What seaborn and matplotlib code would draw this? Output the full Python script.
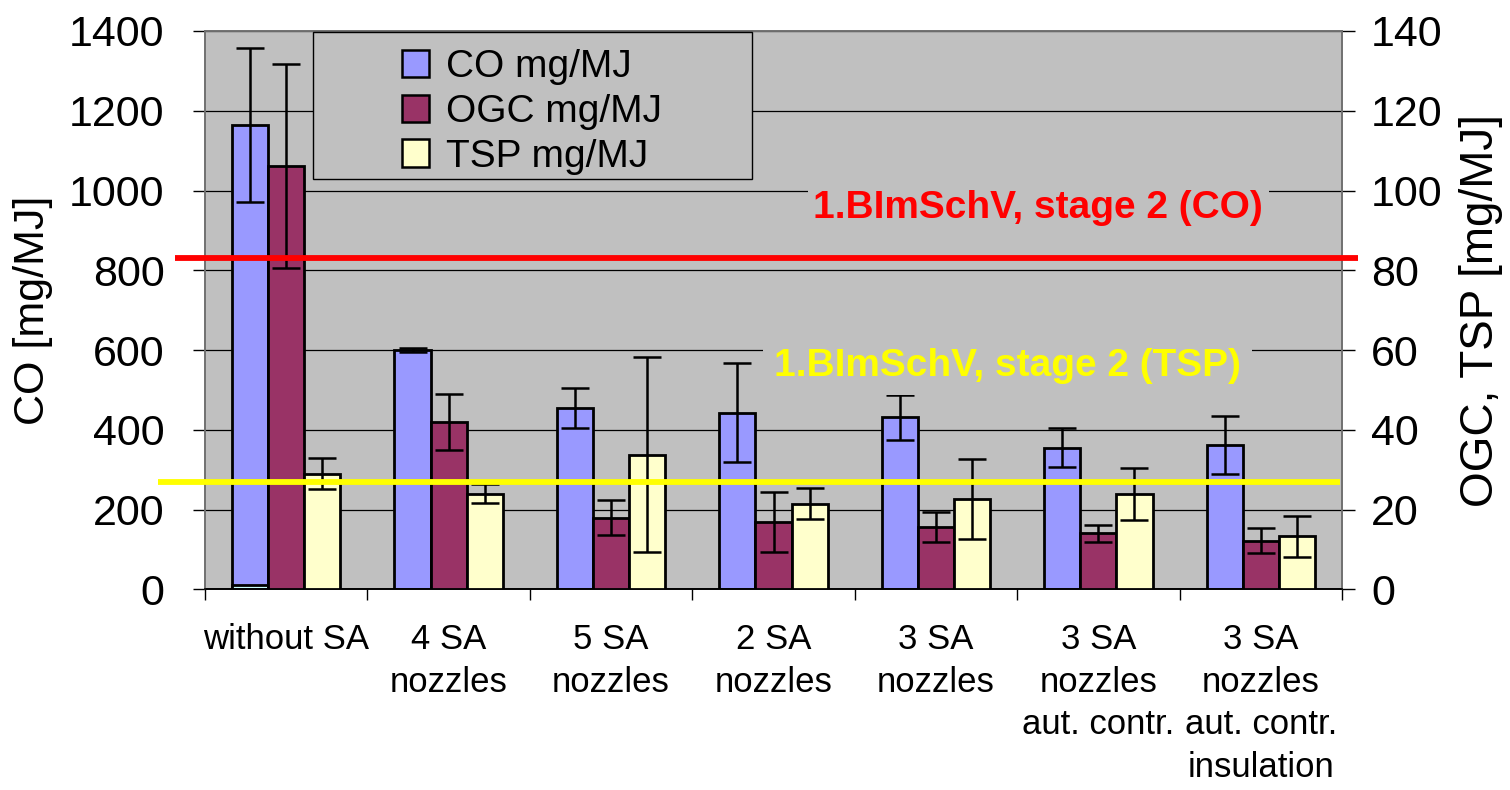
import numpy as np
import pandas as pd
import matplotlib
matplotlib.use("Agg")
import matplotlib.pyplot as plt
import seaborn as sns
from matplotlib.patches import Patch, Rectangle
from matplotlib.ticker import MultipleLocator, FixedLocator

# ---------------- data ----------------
categories = ["without SA", "4 SA\nnozzles", "5 SA\nnozzles", "2 SA\nnozzles",
              "3 SA\nnozzles", "3 SA\nnozzles\naut. contr.",
              "3 SA\nnozzles\naut. contr.\ninsulation"]
series = ["CO mg/MJ", "OGC mg/MJ", "TSP mg/MJ"]
co_values = [1165, 600, 454, 443, 431, 355, 361]
co_err = [193, 5, 50, 125, 56, 49, 73]
ogc_values = [106.1, 41.9, 18.0, 16.8, 15.6, 14.0, 12.2]
ogc_err = [25.5, 7.0, 4.4, 7.5, 3.8, 2.1, 3.2]
tsp_values = [29.0, 24.0, 33.8, 21.5, 22.6, 23.8, 13.3]
tsp_err = [3.8, 2.3, 24.5, 3.9, 10.0, 6.5, 5.1]
co_base_values = [10]          # small light segment at bottom of first CO bar
co_base_categories = ["without SA"]
co_limit = 830                 # left axis
tsp_limit = 27                 # right axis
co_limit_label = "1.BImSchV, stage 2 (CO)"
tsp_limit_label = "1.BImSchV, stage 2 (TSP)"

colors = {"CO mg/MJ": "#9999FF", "OGC mg/MJ": "#993366", "TSP mg/MJ": "#FFFFCC"}
BG = "#C0C0C0"

sns.set_style("white")
plt.rcParams["font.family"] = ["Liberation Sans", "DejaVu Sans"]
for k in ["text.color", "axes.labelcolor", "xtick.color", "ytick.color"]:
    plt.rcParams[k] = "black"

W, H = 1510, 790
fig = plt.figure(figsize=(W / 100, H / 100), dpi=100)
x0, x1, ytop, ybot = 205, 1342, 31, 589.3
ax = fig.add_axes([x0 / W, 1 - ybot / H, (x1 - x0) / W, (ybot - ytop) / H])
ax.set_facecolor(BG)

df_co = pd.DataFrame({"cat": categories, "series": series[0], "val": co_values})
df_r = pd.concat([
    pd.DataFrame({"cat": categories, "series": series[1], "val": ogc_values}),
    pd.DataFrame({"cat": categories, "series": series[2], "val": tsp_values}),
], ignore_index=True)
df_base = pd.DataFrame({"cat": co_base_categories, "series": series[0], "val": co_base_values})

bw = 0.667
common = dict(x="cat", y="val", hue="series", hue_order=series, order=categories,
              width=bw, errorbar=None, legend=False, dodge=True, saturation=1,
              edgecolor="black", linewidth=2.0, zorder=3)

sns.barplot(data=df_co, palette=colors, ax=ax, **common)
sns.barplot(data=df_base, palette={**colors, "CO mg/MJ": "#CCFFFF"}, ax=ax, **common)

ax2 = ax.twinx()
sns.barplot(data=df_r, palette=colors, ax=ax2, **common)

# error bars at bar centres
n = len(categories)
err_kw = dict(fmt="none", ecolor="black", elinewidth=1.8, capsize=10, capthick=1.8, zorder=4)
co_patches = ax.patches[:n]
ax.errorbar([p.get_x() + p.get_width() / 2 for p in co_patches], co_values, yerr=co_err, **err_kw)
r_patches = ax2.patches
ax2.errorbar([p.get_x() + p.get_width() / 2 for p in r_patches[:n]], ogc_values, yerr=ogc_err, **err_kw)
ax2.errorbar([p.get_x() + p.get_width() / 2 for p in r_patches[n:2 * n]], tsp_values, yerr=tsp_err, **err_kw)

# axes limits and ticks
ax.set_xlim(-0.5, n - 0.5)
ax.set_ylim(0, 1400)
ax2.set_ylim(0, 140)
ax.yaxis.set_major_locator(MultipleLocator(200))
ax2.yaxis.set_major_locator(MultipleLocator(20))
ax.grid(axis="y", color="black", linewidth=0.9, zorder=0)
ax.set_axisbelow(True)
ax2.grid(False)

ax.set_xlabel("")
ax.set_ylabel("CO [mg/MJ]", fontsize=31, labelpad=12)
ax2.set_ylabel("OGC, TSP [mg/MJ]", fontsize=33, labelpad=12)

ax.tick_params(axis="y", which="major", length=9, width=1, direction="out",
               labelsize=31, pad=20, left=True)
ax2.tick_params(axis="y", which="major", length=9, width=1, direction="out",
                labelsize=31, pad=12, right=True)
ax.xaxis.set_minor_locator(FixedLocator(np.arange(-0.5, n, 1.0)))
ax.tick_params(axis="x", which="major", length=0, labelsize=25, pad=24)
ax.tick_params(axis="x", which="minor", length=8, width=1, direction="out", bottom=True)
for lab in ax.get_xticklabels():
    lab.set_linespacing(1.38)

for a in (ax, ax2):
    for s in ["left", "right", "top"]:
        a.spines[s].set_color("#707070")
        a.spines[s].set_linewidth(1.2)
    a.spines["bottom"].set_color("black")
    a.spines["bottom"].set_linewidth(1.2)

# limit lines (extend slightly outside plot area)
ax2.plot([-0.685, 6.6], [co_limit, co_limit], transform=ax.transData, color="#FF0000",
         linewidth=4.2, clip_on=False, zorder=6, solid_capstyle="butt")
ax2.plot([-0.79, 6.49], [tsp_limit, tsp_limit], color="#FFFF00",
         linewidth=4.2, clip_on=False, zorder=6, solid_capstyle="butt")

ax2.text(4.63, 956, co_limit_label, transform=ax.transData, color="#FF0000",
         fontsize=28, fontweight="bold", ha="center", va="center", zorder=7,
         bbox=dict(facecolor=BG, edgecolor="none", pad=4))
ax2.text(4.44, 561, tsp_limit_label, transform=ax.transData, color="#FFFF00",
         fontsize=28, fontweight="bold", ha="center", va="center", zorder=7,
         bbox=dict(facecolor=BG, edgecolor="none", pad=8))

# legend box
ax2.add_patch(Rectangle((0.095, 0.735), 0.386, 0.263, transform=ax2.transAxes,
                        facecolor=BG, edgecolor="black", linewidth=1.0, zorder=8))
handles = [Patch(facecolor=colors[s], edgecolor="black", linewidth=1.8) for s in series]
leg = ax2.legend(handles, series, loc="upper left", bbox_to_anchor=(0.173, 0.967),
                 frameon=False, fontsize=28, handlelength=0.7, handleheight=0.7,
                 handletextpad=0.45, labelspacing=0.22, borderpad=0, borderaxespad=0)
leg.set_zorder(9)

fig.savefig("out.png", dpi=100, facecolor="white")
